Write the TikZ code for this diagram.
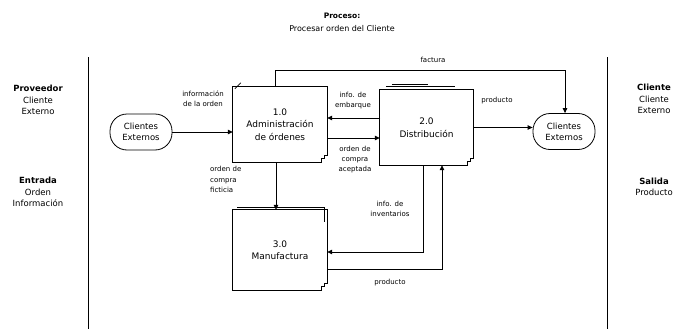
\documentclass[tikz,border=0pt]{standalone}
\usepackage{fontspec}
\setmainfont{DejaVu Sans}
\usetikzlibrary{arrows.meta}
\begin{document}
\begin{tikzpicture}[x=1pt,y=-1pt,
  lbl/.style={font=\fontsize{7}{10}\selectfont, align=center, inner sep=0pt},
  lbll/.style={font=\fontsize{7}{10.5}\selectfont, align=left, inner sep=0pt, anchor=north west},
  side/.style={font=\fontsize{8.5}{11.5}\selectfont, align=center, inner sep=0pt},
  boxtxt/.style={font=\fontsize{9}{12.5}\selectfont, align=center},
  proc/.style={draw=none, minimum width=94pt, inner sep=0pt},
  term/.style={draw, thick, rounded corners=17pt, minimum width=62pt, minimum height=36pt, align=center, inner sep=0pt, font=\fontsize{8.5}{11}\selectfont},
  flow/.style={thick, -{Triangle[length=5pt,width=4.5pt]}},
  outline/.style={thick}
]
\useasboundingbox (0,0) rectangle (684,329);
% title
\node[font=\bfseries\fontsize{7.5}{9}\selectfont, inner sep=0pt] (t1) at (342,16) {Proceso:};
\node[font=\fontsize{8}{9}\selectfont, inner sep=0pt] (t2) at (342,29) {Procesar orden del Cliente};
% side lines
\coordinate (l1) at (88,57); \coordinate (l2) at (88,329);
\coordinate (r1) at (607,57); \coordinate (r2) at (607,329);
\draw[thick] (l1) -- (l2);
\draw[thick] (r1) -- (r2);
% side labels
\node[side] (sl1) at (38,100) {\textbf{Proveedor}\\Cliente\\Externo};
\node[side] (sl2) at (38,192) {\textbf{Entrada}\\Orden\\Información};
\node[side] (sr1) at (654,99) {\textbf{Cliente}\\Cliente\\Externo};
\node[side] (sr2) at (654,187) {\textbf{Salida}\\Producto};
% terminators
\node[term] (ce1) at (141,132) {Clientes\\Externos};
\node[term] (ce2) at (564,131.5) {Clientes\\Externos};
% process boxes
\node[proc, minimum height=75pt] (p1) at (280,124.5) {};
\node[boxtxt] at (p1) {1.0\\Administración\\de órdenes};
\node[proc, minimum width=93pt, minimum height=75pt] (p2) at (426.5,127.5) {};
\node[boxtxt] at (p2) {2.0\\Distribución};
\node[proc, minimum height=80pt] (p3) at (280,250) {};
\node[boxtxt] at (p3) {3.0\\Manufactura};
% outlines with notched corner
\foreach \b in {p1,p2,p3}{
  \draw[outline] (\b.north west) -- (\b.north east) -- ([yshift=7pt]\b.south east)
     -- ++(-3pt,0) -- ++(0,-3pt) -- ++(-3pt,0) -- ++(0,-4pt) -- (\b.south west) -- cycle;
}
% small extras
\draw[thick] ([xshift=2pt,yshift=-2pt]p1.north west) -- ++(6pt,6pt);
\draw[thick] ([xshift=6pt,yshift=3pt]p2.north west) -- ([xshift=-18pt,yshift=3pt]p2.north east);
\draw[thick] ([xshift=12pt,yshift=5pt]p2.north west) -- ([xshift=-45pt,yshift=5pt]p2.north east);
\draw[thick] ([xshift=4pt,yshift=2pt]p3.north west) -- ([xshift=-3pt,yshift=2pt]p3.north east) -- ([xshift=-3pt,yshift=-12pt]p3.north east);
% flows
\draw[flow] (ce1.east) -- (p1.west |- ce1.east);
\node[lbl] (lb1) at (203,98.5) {información\\de la orden};

\coordinate (f1) at (275,70); \coordinate (f2) at (565,70);
\draw[flow] (p1.north -| f1) -- (f1) -- (f2) -- (ce2.north -| f2);
\node[lbl] (lb2) at (433,60) {factura};

\coordinate (e1) at (380,118);
\draw[flow] (e1) -- (p1.east |- e1);
\node[lbl] (lb3) at (353,100.5) {info. de\\embarque};

\coordinate (a1) at (327,138);
\draw[flow] (a1) -- (p2.west |- a1);
\node[lbl] (lb4) at (355,160) {orden de\\compra\\aceptada};

\coordinate (pr1) at (473,127.5);
\draw[flow] (pr1) -- (ce2.west |- pr1);
\node[lbl] (lb5) at (497,101) {producto};

\coordinate (o1) at (276,162);
\draw[flow] (o1) -- (p3.north -| o1);
\node[lbll] (lb6) at (210,166) {orden de\\compra\\ficticia};

\coordinate (i1) at (423,252);
\draw[flow] (p2.south -| i1) -- (i1) -- (p3.east |- i1);
\node[lbl] (lb7) at (390,209) {info. de\\inventarios};

\coordinate (m1) at (327,269); \coordinate (m2) at (442,269);
\draw[flow] (m1) -- (m2) -- (p2.south -| m2);
\node[lbl] (lb8) at (390,283) {producto};
\end{tikzpicture}
\end{document}
